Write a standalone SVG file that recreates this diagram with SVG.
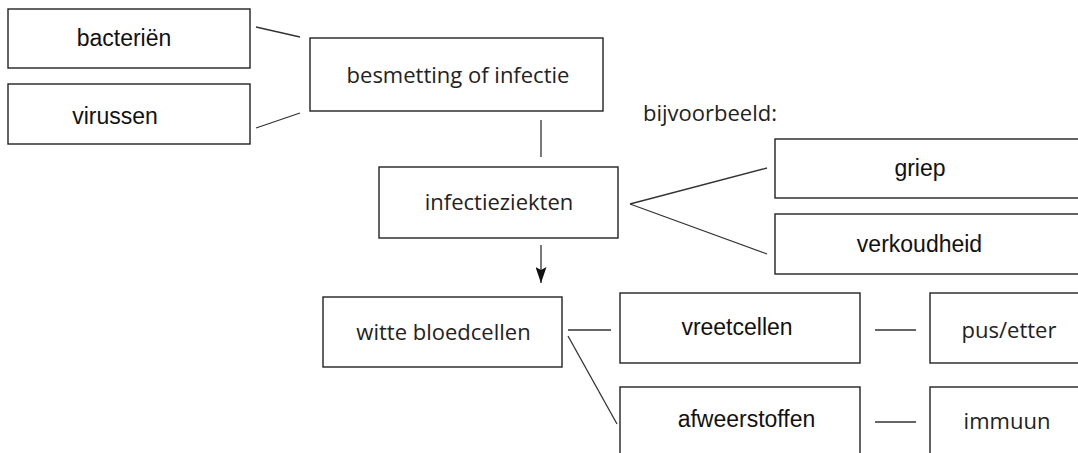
<svg xmlns="http://www.w3.org/2000/svg" width="1078" height="453" viewBox="0 0 1078 453">
<defs>
<style>
.b{fill:#fff;stroke:#222;stroke-width:1.4}
.c line{stroke:#333;stroke-width:1.3}
.a{font-family:"Liberation Sans",Arial,sans-serif;font-size:23px;fill:#111;text-anchor:middle}
.h{font-family:"Open Sans","Noto Sans",sans-serif;font-size:22px;fill:#222;text-anchor:middle}
</style>
<marker id="ah" viewBox="0 0 16 11" refX="16" refY="5.5" markerWidth="16" markerHeight="11" markerUnits="userSpaceOnUse" orient="auto"><path d="M0,0L16,5.5L0,11L3,5.5z" fill="#111"/></marker>
</defs>
<rect width="1078" height="453" fill="#fff"/>
<g class="c">
<line x1="256" y1="27" x2="300" y2="37"/>
<line x1="256" y1="128" x2="300" y2="113"/>
<line x1="541" y1="120" x2="541" y2="157"/>
<line x1="630" y1="204" x2="767" y2="168"/>
<line x1="630" y1="204" x2="767" y2="254"/>
<line x1="541" y1="245" x2="541" y2="283" marker-end="url(#ah)"/>
<line x1="568" y1="330" x2="611" y2="330"/>
<line x1="568" y1="336" x2="617" y2="424"/>
<line x1="875" y1="330" x2="916" y2="330"/>
<line x1="875" y1="422" x2="916" y2="422"/>
</g>
<g id="bacterien"><rect class="b" x="8" y="9" width="242" height="59"/><text class="a" x="124" y="46">bacteriën</text></g>
<g id="virussen"><rect class="b" x="8" y="84" width="242" height="60"/><text class="a" x="115" y="124">virussen</text></g>
<g id="besmetting"><rect class="b" x="310" y="38" width="293" height="73"/><text class="h" x="458" y="83">besmetting of infectie</text></g>
<g id="infectieziekten"><rect class="b" x="379" y="167" width="239" height="71"/><text class="h" x="499" y="210">infectieziekten</text></g>
<g id="bijvoorbeeld"><text class="h" x="643" y="121" style="text-anchor:start">bijvoorbeeld:</text></g>
<g id="griep"><rect class="b" x="775" y="139" width="310" height="59"/><text class="a" x="920" y="176">griep</text></g>
<g id="verkoudheid"><rect class="b" x="775" y="214" width="310" height="60"/><text class="a" x="919.5" y="252">verkoudheid</text></g>
<g id="witte"><rect class="b" x="323" y="297" width="239" height="70"/><text class="h" x="443.5" y="340">witte bloedcellen</text></g>
<g id="vreetcellen"><rect class="b" x="620" y="293" width="240" height="70"/><text class="a" x="737" y="335">vreetcellen</text></g>
<g id="afweerstoffen"><rect class="b" x="620" y="387" width="240" height="80"/><text class="a" x="746.5" y="427">afweerstoffen</text></g>
<g id="pus"><rect class="b" x="930" y="293" width="160" height="70"/><text class="h" x="1009" y="338">pus/etter</text></g>
<g id="immuun"><rect class="b" x="930" y="387" width="160" height="80"/><text class="h" x="1007" y="429">immuun</text></g>
</svg>
